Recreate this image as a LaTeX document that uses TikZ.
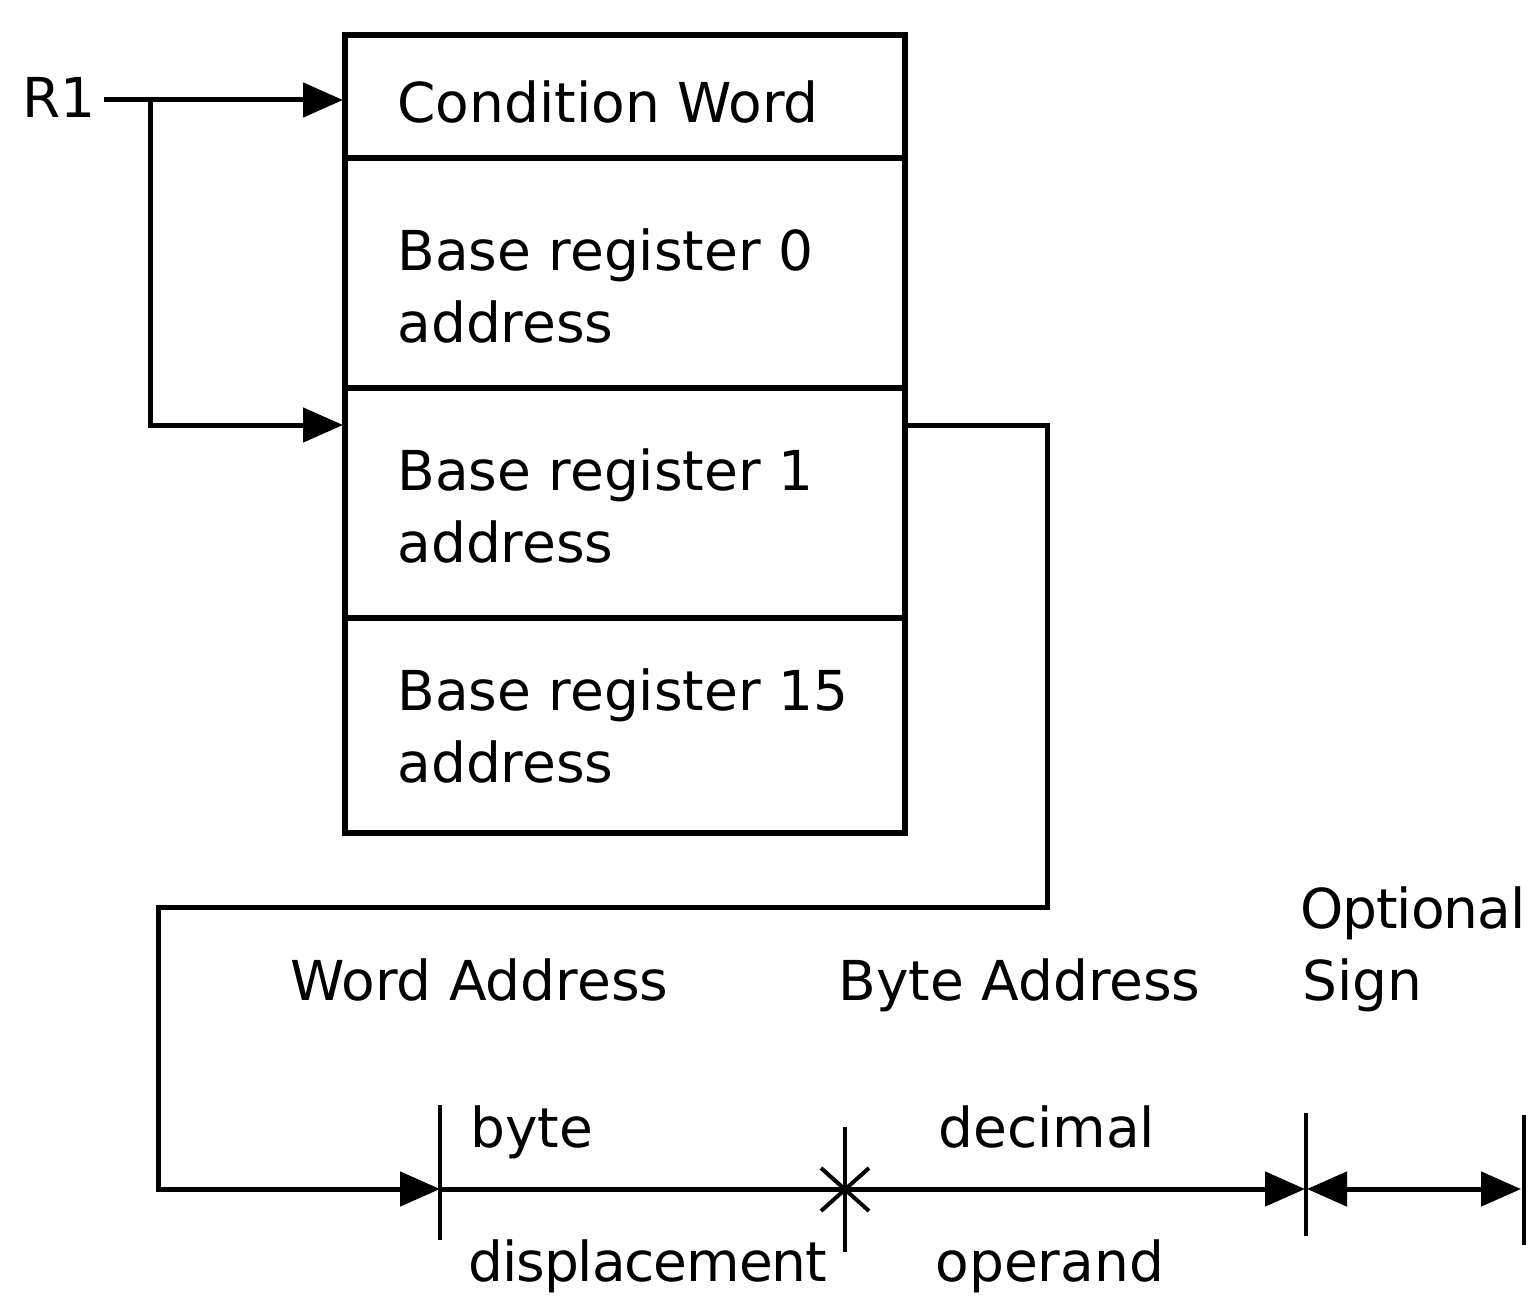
\documentclass[tikz,border=0pt]{standalone}
\usepackage{fontspec}
\setmainfont{DejaVu Sans}
\usetikzlibrary{arrows.meta}
\begin{document}
\begin{tikzpicture}[x=0.5pt,y=-0.5pt,
  cell/.style={draw, line width=3pt, minimum width=280pt, inner sep=0pt},
  lbl/.style={font=\fontsize{27.5}{35}\selectfont, inner sep=0pt, anchor=base west},
  tight/.style={font=\fontsize{27.5}{35}\selectfont\addfontfeatures{LetterSpace=-2}},
  wire/.style={line width=2.5pt},
  tip/.style={-{Triangle[length=20pt,width=17pt]}},
  dtip/.style={{Triangle[length=20pt,width=17pt]}-{Triangle[length=20pt,width=17pt]}},
  tickline/.style={line width=2pt}]
\useasboundingbox (0,0) rectangle (1530,1295);
% register block
\node[cell, minimum height=61.5pt]  (c0) at (625,96.5) {};
\node[cell, minimum height=115pt]   (c1) at (625,273) {};
\node[cell, minimum height=115pt]   (c2) at (625,503) {};
\node[cell, minimum height=107.5pt] (c3) at (625,725.5) {};
% texts in block
\node[lbl] (t0)  at (397,122) {Condition Word};
\node[lbl] (t1a) at (397,270) {Base register 0};
\node[lbl] (t1b) at (397,342) {address};
\node[lbl] (t2a) at (397,490) {Base register 1};
\node[lbl] (t2b) at (397,562) {address};
\node[lbl] (t3a) at (397,710) {Base register 15};
\node[lbl] (t3b) at (397,782) {address};
% R1 and its connectors
\node[lbl] (r1) at (22,118) {R1};
\coordinate (r1e) at (104,100);
\coordinate (br)  at (150,100);
\coordinate (in0) at (343,100);
\coordinate (in1) at (343,425);
\coordinate (out1) at (906,425);
\draw[wire,tip] (r1e) -- (in0);
\draw[wire,tip] (br) |- (in1);
% bottom scale
\coordinate (k0) at (440,1189);
\coordinate (k1) at (845,1189);
\coordinate (k2) at (1305,1189);
\coordinate (k3) at (1523,1189);
\draw[wire,tip,line join=miter] (out1) -| (1047,907) -| (158,1189) -- (k0);
\draw[wire,tip] (k0) -- (k2);
\draw[wire,dtip] ([xshift=1pt]k2) -- ([xshift=-1pt]k3);
\draw[tickline] (440,1105) -- (440,1240);
\draw[tickline] (845,1127) -- (845,1252);
\draw[tickline] (821,1168) -- (869,1211);
\draw[tickline] (869,1168) -- (821,1211);
\draw[tickline] (1306,1113) -- (1306,1236);
\draw[tickline] (1524,1115) -- (1524,1245);
% labels
\node[lbl] (wa)  at (290,1000) {Word Address};
\node[lbl] (ba)  at (838,1000) {Byte Address};
\node[lbl,tight] (op)  at (1300,928) {Optional};
\node[lbl] (sg)  at (1302,1000) {Sign};
\node[lbl] (by)  at (470,1147) {byte};
\node[lbl] (de)  at (938,1147) {decimal};
\node[lbl,tight] (di)  at (468,1281) {displacement};
\node[lbl] (od)  at (935,1281) {operand};
\end{tikzpicture}
\end{document}
